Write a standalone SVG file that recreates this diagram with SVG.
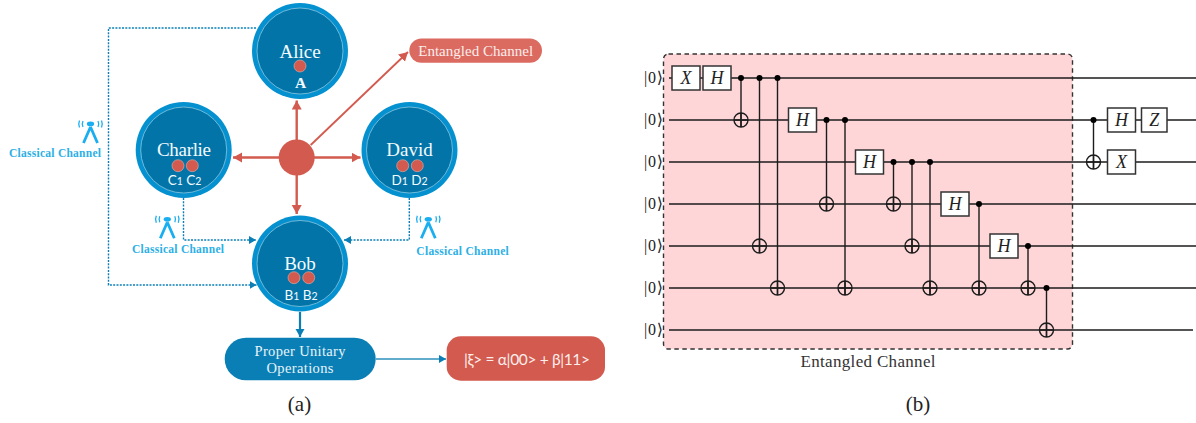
<svg xmlns="http://www.w3.org/2000/svg" xmlns:xlink="http://www.w3.org/1999/xlink" width="1196" height="423" viewBox="0 0 1196 423">
<style>
.nm{font-family:"Liberation Serif",serif;font-size:19px;fill:#f4fafd;text-anchor:middle}
.sub{font-family:Lato,"Liberation Sans",sans-serif;font-size:13.5px;fill:#f4fafd;text-anchor:middle}
.sub tspan{font-size:10.5px}
.outer{fill:#0591cf}
.inner{fill:#0274a8;stroke:#8cc6df;stroke-width:.8}
.dot{fill:#d35a4e;stroke:#eab0a8;stroke-width:.6}
.cc{font-family:"Liberation Serif",serif;font-weight:bold;font-size:11.5px;fill:#2cb0e6}
.red{stroke:#d35a4e;stroke-width:2.4;fill:none;marker-end:url(#ar)}
.dash{stroke:#0b7fb5;stroke-width:1.4;stroke-dasharray:2 1.3;fill:none;marker-end:url(#ab)}
.wire{stroke:#1c1c1c;stroke-width:1.4;fill:none}
.gate{fill:#fff;stroke:#333;stroke-width:1.5}
.gt{font-family:"Liberation Serif",serif;font-style:italic;font-size:18px;fill:#222;text-anchor:middle}
.ket{font-family:"Liberation Serif","DejaVu Serif",serif;font-size:16px;fill:#222;text-anchor:middle}
.ctl{fill:#000}
.tgt{fill:none;stroke:#1c1c1c;stroke-width:1.4}
.cap{font-family:"Liberation Serif",serif;font-size:21px;fill:#222;text-anchor:middle}
.ant{fill:none;stroke:#19aef0;stroke-width:1.3}
</style>
<defs>
<marker id="ar" markerUnits="userSpaceOnUse" markerWidth="12" markerHeight="12" refX="9" refY="5" orient="auto"><path d="M0 0L9 5L0 10z" fill="#d35a4e"/></marker>
<marker id="ab" markerUnits="userSpaceOnUse" markerWidth="10" markerHeight="10" refX="7" refY="4" orient="auto"><path d="M0 0L7 4L0 8z" fill="#0b7fb5"/></marker>
<marker id="ab2" markerUnits="userSpaceOnUse" markerWidth="12" markerHeight="12" refX="8" refY="4.5" orient="auto"><path d="M0 0L8 4.5L0 9z" fill="#0b7fb5"/></marker>
<g id="antenna">
<ellipse cx="0" cy="0" rx="3.6" ry="2.4" fill="#19aef0"/>
<path d="M0 3L-7 19M0 3L7 19" stroke="#19aef0" stroke-width="2.8" fill="none"/>
<path class="ant" d="M-7.5 -3Q-9 0 -7.5 3M-11 -3.5Q-12.5 0 -11 3.5M7.5 -3Q9 0 7.5 3M11 -3.5Q12.5 0 11 3.5"/>
</g>
<g id="tg"><circle class="tgt" r="7"/><path class="tgt" d="M-7 0H7M0 -7V7"/></g>
</defs>
<rect width="1196" height="423" fill="#fff"/>

<g id="connectors">
<path class="red" d="M296.7 140V100.5"/>
<path class="red" d="M279 157.5H233"/>
<path class="red" d="M314 157.5H360.5"/>
<path class="red" d="M296.7 175V214"/>
<path d="M310.7 145L408 52" stroke="#d35a4e" stroke-width="1.8" fill="none" marker-end="url(#ar)"/>
<path class="dash" d="M256 28H108.5V285H256.5"/>
<path class="dash" d="M183.5 198V240H256"/>
<path class="dash" d="M409.3 198V240H344"/>
<path d="M300 312V337" stroke="#0b7fb5" stroke-width="2.2" fill="none" marker-end="url(#ab2)"/>
<path d="M376 359H446" stroke="#2d8fbd" stroke-width="1.4" fill="none" marker-end="url(#ab)"/>
</g>

<g id="alice"><circle class="outer" cx="300" cy="51" r="48"/><circle class="inner" cx="300" cy="51" r="43"/><text class="nm" x="300" y="57.5">Alice</text><circle class="dot" cx="300" cy="66" r="6"/><text x="300.5" y="88" font-family="Liberation Serif,serif" font-weight="bold" font-size="15.5" fill="#f4fafd" text-anchor="middle">A</text></g>
<g id="charlie"><circle class="outer" cx="183.7" cy="150" r="48"/><circle class="inner" cx="183.7" cy="150" r="43"/><text class="nm" x="184" y="155.5" textLength="54">Charlie</text><circle class="dot" cx="178" cy="165.7" r="6"/><circle class="dot" cx="192.3" cy="165.7" r="6"/><text class="sub" x="184.5" y="185">C<tspan>1</tspan> C<tspan>2</tspan></text></g>
<g id="david"><circle class="outer" cx="409.5" cy="150" r="48"/><circle class="inner" cx="409.5" cy="150" r="43"/><text class="nm" x="409.5" y="155.5">David</text><circle class="dot" cx="402.7" cy="165.7" r="6"/><circle class="dot" cx="417.3" cy="165.7" r="6"/><text class="sub" x="409.5" y="185">D<tspan>1</tspan> D<tspan>2</tspan></text></g>
<g id="bob"><circle class="outer" cx="300" cy="263.5" r="48"/><circle class="inner" cx="300" cy="263.5" r="43"/><text class="nm" x="300" y="269.5">Bob</text><circle class="dot" cx="294" cy="277.7" r="6"/><circle class="dot" cx="308.7" cy="277.7" r="6"/><text class="sub" x="301" y="299.5">B<tspan>1</tspan> B<tspan>2</tspan></text></g>
<g id="source"><circle cx="296.7" cy="157.5" r="18" fill="#d35a4e"/></g>
<g id="entangled-channel"><rect x="409.3" y="38.5" width="132.7" height="24.2" rx="12.1" fill="#db6a60"/><text x="475.7" y="55.5" font-family="Liberation Serif,serif" font-size="15" fill="#fbeeec" text-anchor="middle" textLength="115">Entangled Channel</text></g>
<g id="unitary"><rect x="224.7" y="337.7" width="151" height="42.6" rx="21.3" fill="#0a7fb6"/><text x="300" y="356" font-family="Liberation Serif,serif" font-size="14.5" fill="#e8f4fa" text-anchor="middle" textLength="91">Proper Unitary</text><text x="300" y="373" font-family="Liberation Serif,serif" font-size="14.5" fill="#e8f4fa" text-anchor="middle" textLength="67">Operations</text></g>
<g id="state"><rect x="446.7" y="336.3" width="158.3" height="44.4" rx="14" fill="#d35a4e"/><text x="527" y="364.5" font-family="Lato,Liberation Sans,sans-serif" font-size="15.5" fill="#fbeeec" text-anchor="middle" textLength="126">|ξ&gt; = α|00&gt; + β|11&gt;</text></g>
<g id="cc1"><use xlink:href="#antenna" href="#antenna" x="90.5" y="124"/><text class="cc" x="9" y="157" textLength="92">Classical Channel</text></g>
<g id="cc2"><use xlink:href="#antenna" href="#antenna" x="167.3" y="219.3"/><text class="cc" x="132" y="252.7" textLength="92">Classical Channel</text></g>
<g id="cc3"><use xlink:href="#antenna" href="#antenna" x="428.3" y="219.3"/><text class="cc" x="416.3" y="254.7" textLength="92.5">Classical Channel</text></g>
<text class="cap" x="299.5" y="411">(a)</text>

<g id="circuit">
<rect x="663.5" y="54" width="409" height="295" rx="5" fill="#ffd6d8" stroke="#333" stroke-width="1.4" stroke-dasharray="4.5 3.5"/>
<g id="kets">
<text class="ket" x="653.5" y="83" textLength="19">|0⟩</text><text class="ket" x="653.5" y="125" textLength="19">|0⟩</text><text class="ket" x="653.5" y="167" textLength="19">|0⟩</text><text class="ket" x="653.5" y="209" textLength="19">|0⟩</text><text class="ket" x="653.5" y="251" textLength="19">|0⟩</text><text class="ket" x="653.5" y="293" textLength="19">|0⟩</text><text class="ket" x="653.5" y="335" textLength="19">|0⟩</text>
</g>
<g id="wires">
<path class="wire" d="M669 78H1196M669 120H1196M669 162H1196M669 204H1196M669 246H1196M669 288H1196M669 330H1193"/>
<path class="wire" d="M741 78V127M759.5 78V253M777.5 78V295M826.5 120V211M845 120V295M893.5 162V211M912 162V253M930 162V295M979 204V295M1028 246V295M1046.5 288V337M1093.5 120V169"/>
</g>
<g id="controls">
<circle class="ctl" cx="741" cy="78" r="3"/><circle class="ctl" cx="759.5" cy="78" r="3"/><circle class="ctl" cx="777.5" cy="78" r="3"/><circle class="ctl" cx="826.5" cy="120" r="3"/><circle class="ctl" cx="845" cy="120" r="3"/><circle class="ctl" cx="893.5" cy="162" r="3"/><circle class="ctl" cx="912" cy="162" r="3"/><circle class="ctl" cx="930" cy="162" r="3"/><circle class="ctl" cx="979" cy="204" r="3"/><circle class="ctl" cx="1028" cy="246" r="3"/><circle class="ctl" cx="1046.5" cy="288" r="3"/><circle class="ctl" cx="1093.5" cy="120" r="3"/>
</g>
<g id="targets">
<use href="#tg" x="741" y="120"/><use href="#tg" x="759.5" y="246"/><use href="#tg" x="777.5" y="288"/><use href="#tg" x="826.5" y="204"/><use href="#tg" x="845" y="288"/><use href="#tg" x="893.5" y="204"/><use href="#tg" x="912" y="246"/><use href="#tg" x="930" y="288"/><use href="#tg" x="979" y="288"/><use href="#tg" x="1028" y="288"/><use href="#tg" x="1046.5" y="330"/><use href="#tg" x="1093.5" y="162"/>
</g>
<g id="gates">
<rect class="gate" x="672" y="66" width="28" height="24"/><text class="gt" x="686" y="84">X</text>
<rect class="gate" x="703" y="66" width="28" height="24"/><text class="gt" x="717" y="84">H</text>
<rect class="gate" x="788.5" y="108" width="28" height="24"/><text class="gt" x="802.5" y="126">H</text>
<rect class="gate" x="855.5" y="150" width="28" height="24"/><text class="gt" x="869.5" y="168">H</text>
<rect class="gate" x="941" y="192" width="28" height="24"/><text class="gt" x="955" y="210">H</text>
<rect class="gate" x="990" y="234" width="28" height="24"/><text class="gt" x="1004" y="252">H</text>
<rect class="gate" x="1107.5" y="108" width="28" height="24"/><text class="gt" x="1121.5" y="126">H</text>
<rect class="gate" x="1141.5" y="108" width="25.5" height="24"/><text class="gt" x="1154.3" y="126">Z</text>
<rect class="gate" x="1107.5" y="150" width="28" height="24"/><text class="gt" x="1121.5" y="168">X</text>
</g>
</g>
<text x="868" y="367" font-family="Liberation Serif,serif" font-size="17" fill="#333" text-anchor="middle" textLength="135">Entangled Channel</text>
<text class="cap" x="918" y="411">(b)</text>
</svg>
